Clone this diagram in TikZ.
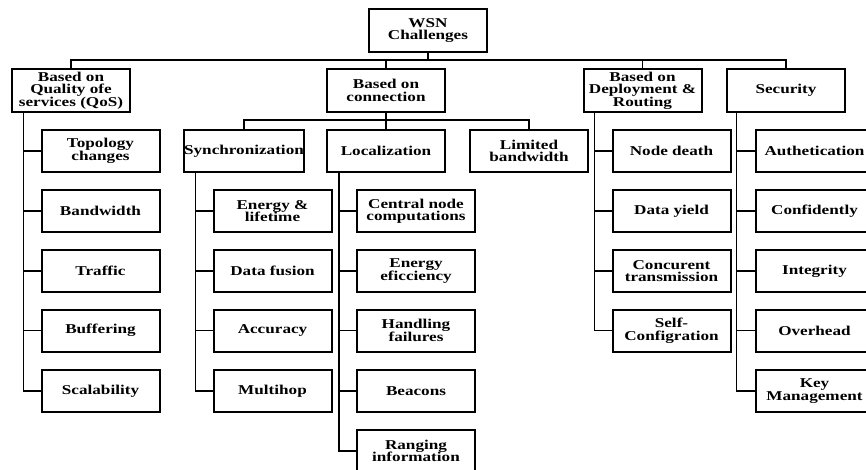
\documentclass[tikz,border=0pt]{standalone}
\usepackage{fontspec}
\newfontfamily\lbl{Liberation Serif}[FakeStretch=1.27]
\begin{document}
\begin{tikzpicture}[x=1pt,y=-1pt,
  box/.style={draw=black,line width=2pt,rectangle,minimum width=118pt,minimum height=42pt,
    inner sep=0pt,align=center,font=\lbl\bfseries\fontsize{13.5}{12.5}\selectfont},
  link/.style={line width=1.9pt,line join=miter}]
\useasboundingbox (0,0) rectangle (866,469);
\clip (0,0) rectangle (866,469);
\fill[white] (0,0) rectangle (866,469);

% root and first level
\node[box,minimum height=43pt] (wsn) at (428,30.5) {WSN\\Challenges};
\node[box,minimum height=43pt] (qos) at (71,90.5) {Based on\\Quality ofe\\services (QoS)};
\node[box,minimum height=43pt] (conn) at (386,90.5) {Based on\\connection};
\node[box,minimum height=43pt] (dep) at (642.5,90.5) {Based on\\Deployment \&\\Routing};
\node[box,minimum height=43pt] (sec) at (786,90.5) {Security};

% second level under "connection"
\node[box] (sync) at (244,151) {Synchronization};
\node[box] (loc) at (386,151) {Localization};
\node[box] (lim) at (529,151) {Limited\\bandwidth};

% QoS items
\node[box] (q1) at (100.5,151) {Topology\\changes};
\node[box] (q2) at (100.5,211) {Bandwidth};
\node[box] (q3) at (100.5,271) {Traffic};
\node[box] (q4) at (100.5,330.5) {Buffering};
\node[box] (q5) at (100.5,391) {Scalability};

% synchronization items
\node[box] (s1) at (272.5,211) {Energy \&\\lifetime};
\node[box] (s2) at (272.5,271) {Data fusion};
\node[box] (s3) at (272.5,330.5) {Accuracy};
\node[box] (s4) at (272.5,391) {Multihop};

% localization items
\node[box] (l1) at (416,211) {Central node\\computations};
\node[box] (l2) at (416,271) {Energy\\eficciency};
\node[box] (l3) at (416,330.5) {Handling\\failures};
\node[box] (l4) at (416,391) {Beacons};
\node[box] (l5) at (416,451) {Ranging\\information};

% deployment items
\node[box] (d1) at (671.5,151) {Node death};
\node[box] (d2) at (671.5,211) {Data yield};
\node[box] (d3) at (671.5,271) {Concurent\\transmission};
\node[box] (d4) at (671.5,330.5) {Self-\\Configration};

% security items
\node[box] (e1) at (814.5,151) {Authetication};
\node[box] (e2) at (814.5,211) {Confidently};
\node[box] (e3) at (814.5,271) {Integrity};
\node[box] (e4) at (814.5,330.5) {Overhead};
\node[box] (e5) at (814.5,391) {Key\\Management};

% main bus
\draw[link] (qos.north) -- ++(0,-8) -| (sec.north);
\draw[link] (wsn.south) -- (wsn.south |- 0,61);
\draw[link] (conn.north) -- (conn.north |- 0,61);
\draw[link] (dep.north) -- (dep.north |- 0,61);

% connection sub-bus
\draw[link] (sync.north) -- ++(0,-9) -| (lim.north);
\draw[link] (conn.south) -- (loc.north);

% vertical spines with side stubs
\draw[link] ([xshift=-17pt]q1.west |- qos.south) |- (q5.west);
\foreach \n in {q1,q2,q3,q4} \draw[link] (\n.west) -- ++(-17,0);
\draw[link] ([xshift=-17pt]s1.west |- sync.south) |- (s4.west);
\foreach \n in {s1,s2,s3} \draw[link] (\n.west) -- ++(-17,0);
\draw[link] ([xshift=-17pt]l1.west |- loc.south) |- (l5.west);
\foreach \n in {l1,l2,l3,l4} \draw[link] (\n.west) -- ++(-17,0);
\draw[link] ([xshift=-17pt]d1.west |- dep.south) |- (d4.west);
\foreach \n in {d1,d2,d3} \draw[link] (\n.west) -- ++(-17,0);
\draw[link] ([xshift=-18pt]e1.west |- sec.south) |- (e5.west);
\foreach \n in {e1,e2,e3,e4} \draw[link] (\n.west) -- ++(-18,0);
\end{tikzpicture}
\end{document}
